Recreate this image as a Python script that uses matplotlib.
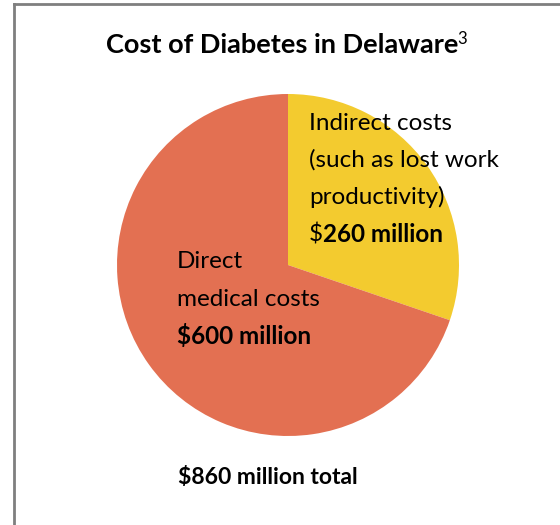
import matplotlib
matplotlib.use('Agg')
import matplotlib.pyplot as plt
from matplotlib.lines import Line2D

plt.rcParams['font.family'] = ['Lato', 'DejaVu Sans']

W, H = 560, 525
labels = ['Indirect costs', 'Direct medical costs']
values = [260, 600]
colors = ['#F3CB2F', '#E37052']
title = 'Cost of Diabetes in Delaware'
footnote = '3'
total_text = '$860 million total'

fig = plt.figure(figsize=(W / 100, H / 100), dpi=100)

def fx(px):
    return px / W

def fy(py):
    return 1 - py / H

# chart frame (gray border, clipped by the picture on right/bottom)
fig.add_artist(Line2D([fx(14), fx(14)], [fy(4), 0], color='#7F7F7F', lw=2))
fig.add_artist(Line2D([fx(14), 1], [fy(4), fy(4)], color='#7F7F7F', lw=2))

cx, cy, r = 288, 265, 171
ax = fig.add_axes([fx(cx - r), fy(cy + r), 2 * r / W, 2 * r / H])
ax.pie(values, colors=colors, startangle=90, counterclock=False, radius=1)
ax.set_xlim(-1, 1)
ax.set_ylim(-1, 1)
ax.set_aspect('auto')
ax.axis('off')

renderer = fig.canvas.get_renderer()

def after(t, txt, **kw):
    bb = t.get_window_extent(renderer=renderer)
    x = bb.x1 / W
    return fig.text(x, t.get_position()[1], txt, **kw)

t = fig.text(fx(282), fy(45), title, ha='center', va='center', fontsize=19.5, fontweight='bold')
bb = t.get_window_extent(renderer=renderer)
fig.text(bb.x1 / W - 0.001, fy(39), footnote, ha='left', va='center', fontsize=12)

fs = 17.5
for i, line in enumerate(['Indirect costs', '(such as lost work', 'productivity)']):
    fig.text(fx(309), fy(123 + 37 * i), line, ha='left', va='center', fontsize=fs)
t = fig.text(fx(309), fy(234), '$', ha='left', va='center', fontsize=fs)
after(t, '260 million', ha='left', va='center', fontsize=fs, fontweight='bold')

fig.text(fx(177), fy(262), 'Direct', ha='left', va='center', fontsize=fs)
fig.text(fx(177), fy(299), 'medical costs', ha='left', va='center', fontsize=fs)
fig.text(fx(177), fy(336), '$600 million', ha='left', va='center', fontsize=fs, fontweight='bold')

fig.text(fx(268), fy(478), total_text, ha='center', va='center', fontsize=16.5, fontweight='bold')

fig.savefig('out.png', dpi=100)
